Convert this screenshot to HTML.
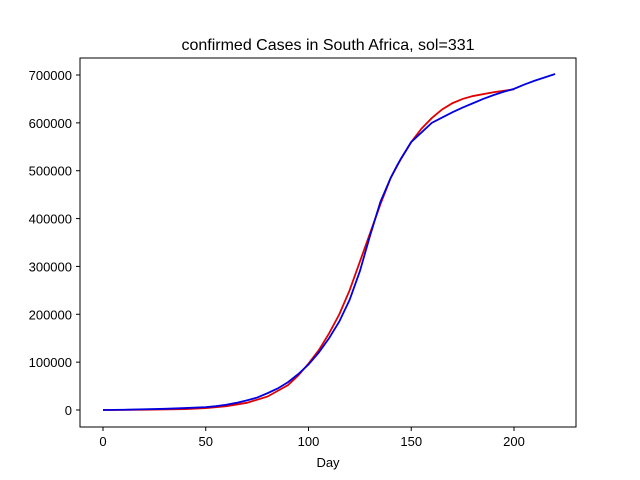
<!DOCTYPE html>
<html><head><meta charset="utf-8"><style>body{margin:0;background:#fff}svg{display:block}text{font-family:"Liberation Sans","DejaVu Sans",sans-serif;font-size:13px;fill:#000}</style></head>
<body>
<svg id="chart" width="640" height="480" xmlns="http://www.w3.org/2000/svg">
<text x="328" y="50" text-anchor="middle" style="font-size:16px">confirmed Cases in South Africa, sol=331</text>
<rect x="80" y="58" width="496" height="369" fill="none" stroke="#000" stroke-width="1"/>
<g id="ticks"></g>
<text x="328" y="467" text-anchor="middle">Day</text>
<polyline id="red" fill="none" stroke="#e00000" stroke-width="1.8"/>
<polyline id="blue" fill="none" stroke="#0000e0" stroke-width="1.8"/>
</svg>
<script>
const xTicks=[0,50,100,150,200];
const yTicks=[0,100000,200000,300000,400000,500000,600000,700000];
const blueDays=[0,10,20,30,40,50,55,60,65,70,75,80,85,90,95,100,105,110,115,120,125,130,135,140,143,145,150,155,160,165,170,175,180,185,190,195,200,205,210,215,220];
const blueVals=[0,500,1500,2500,4000,6000,8000,11000,15000,20000,26000,35000,45000,58000,75000,95000,120000,150000,185000,230000,290000,365000,435000,485000,510000,525000,560000,580000,600000,611000,622000,632000,641000,650000,658000,665000,671000,680000,688000,695000,702000];
const redDays=[0,20,40,50,60,70,80,90,95,100,105,110,115,120,125,130,135,140,145,150,155,160,165,170,175,180,190,200];
const redVals=[0,500,2000,4000,8000,15000,28000,52000,72000,97000,125000,160000,200000,250000,310000,370000,430000,485000,525000,560000,588000,610000,628000,641000,650000,656000,664000,670000];
const X=d=>103+d*(514-103)/200;
const Y=v=>410-v*335/700000;
const g=document.getElementById('ticks');
const NS='http://www.w3.org/2000/svg';
xTicks.forEach(t=>{
 const l=document.createElementNS(NS,'line');
 
 
 l.setAttribute('x1',X(t));l.setAttribute('x2',X(t));l.setAttribute('y1',427);l.setAttribute('y2',431);l.setAttribute('stroke','#000');g.appendChild(l);
 const tx=document.createElementNS(NS,'text');
 
 
 tx.setAttribute('x',X(t));tx.setAttribute('y',446);tx.setAttribute('text-anchor','middle');tx.textContent=t;g.appendChild(tx);
});
yTicks.forEach(t=>{
 const l=document.createElementNS(NS,'line');
 
 
 l.setAttribute('x1',76);l.setAttribute('x2',80);l.setAttribute('y1',Y(t));l.setAttribute('y2',Y(t));l.setAttribute('stroke','#000');g.appendChild(l);
 const tx=document.createElementNS(NS,'text');
 
 
 tx.setAttribute('x',72);tx.setAttribute('y',Y(t)+5);tx.setAttribute('text-anchor','end');tx.textContent=t;g.appendChild(tx);
});
document.getElementById('red').setAttribute('points',redDays.map((d,i)=>X(d)+','+Y(redVals[i])).join(' '));
document.getElementById('blue').setAttribute('points',blueDays.map((d,i)=>X(d)+','+Y(blueVals[i])).join(' '));
</script>
</body></html>
